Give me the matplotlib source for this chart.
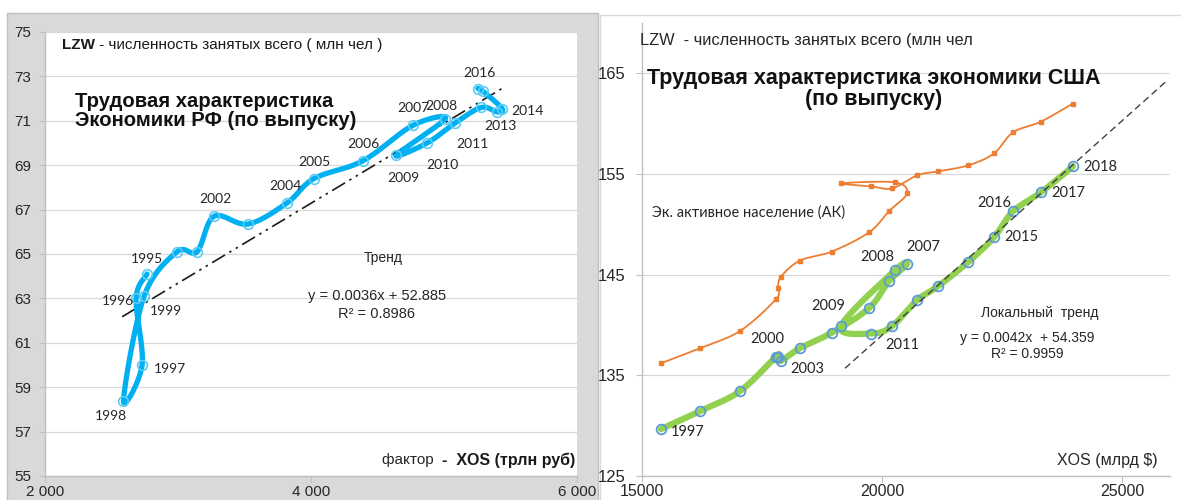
import numpy as np
import matplotlib
matplotlib.use("Agg")
import matplotlib.pyplot as plt
from matplotlib.patches import Rectangle

W, H = 1181, 500

# ---------------- data: Russia ----------------
ru_years = [1995, 1996, 1997, 1998, 1999, 2000, 2001, 2002, 2003, 2004, 2005,
            2006, 2007, 2008, 2009, 2010, 2011, 2012, 2013, 2014, 2015, 2016]
ru_xos = [2767, 2685, 2730, 2590, 2745, 2993, 3143, 3271, 3527, 3820, 4023,
          4391, 4767, 5010, 4640, 4873, 5083, 5279, 5399, 5437, 5290, 5255]
ru_lzw = [64.1, 63.0, 60.0, 58.4, 63.1, 65.1, 65.1, 66.7, 66.35, 67.3, 68.4,
          69.2, 70.8, 71.1, 69.45, 70.0, 70.9, 71.6, 71.4, 71.55, 72.35, 72.45]
ru_trend = (0.0036, 52.885)
ru_trend_x = [2580, 5450]
ru_xticks = [2000, 4000, 6000]
ru_xticklabels = ["2 000", "4 000", "6 000"]
ru_yticks = [55, 57, 59, 61, 63, 65, 67, 69, 71, 73, 75]

# ---------------- data: USA ----------------
us_years = list(range(1997, 2019))
us_xos = [15396, 16208, 17041, 17790, 17830, 17896, 18291, 18958, 19729, 20145, 20520,
          20270, 19145, 19770, 20208, 20729, 21166, 21791, 22332, 22728, 23311, 23978]
us_lzw = [129.66, 131.45, 133.43, 136.85, 136.85, 136.45, 137.7, 139.25, 141.67, 144.35, 146.03,
          145.44, 139.88, 139.15, 139.88, 142.46, 143.85, 146.23, 148.71, 151.29, 153.17, 155.75]
us_ak = [136.2, 137.7, 139.4, 142.56, 143.65, 144.8, 146.4, 147.3, 149.2, 151.3, 153.08,
         154.17, 154.07, 153.77, 153.57, 154.86, 155.26, 155.85, 157.04, 159.13, 160.2, 162.0]
us_trend = (0.00426, 53.78)
us_trend_x = [19230, 25940]
us_xticks = [15000, 20000, 25000]
us_yticks = [125, 135, 145, 155, 165]

# label offsets (pixels) for the labelled years
ru_lab = {1995: (0, 15), 1996: (-18, -3), 1997: (28, -4), 1998: (-13, -15), 1999: (22, -15),
          2002: (1, 17), 2004: (-2, 17), 2005: (0, 17), 2006: (0, 17), 2007: (0, 17),
          2008: (-4, 13), 2009: (7, -23), 2010: (15, -22), 2011: (17, -21), 2013: (3, -14),
          2014: (25, -2), 2016: (2, 16)}
us_lab = {1997: (27, -3), 2000: (-9, 18), 2003: (7, -21), 2007: (16, 17), 2008: (-18, 13),
          2009: (-13, 20), 2011: (10, -19), 2015: (27, 0), 2016: (-19, 8), 2017: (27, -1),
          2018: (27, -1)}

ARIAL = ["Liberation Sans", "DejaVu Sans"]
CALIB = ["Lato", "Open Sans", "DejaVu Sans"]
plt.rcParams["font.family"] = ARIAL


def smooth(xs, ys, xlim, ylim, wpx, hpx, n=20):
    px = (np.asarray(xs, float) - xlim[0]) / (xlim[1] - xlim[0]) * wpx
    py = (np.asarray(ys, float) - ylim[0]) / (ylim[1] - ylim[0]) * hpx
    P = np.column_stack([px, py])
    E = np.vstack([P[0], P, P[-1]])
    t = np.linspace(0, 1, n, endpoint=False)[:, None]
    segs = []
    for i in range(len(P) - 1):
        p0, p1, p2, p3 = E[i], E[i + 1], E[i + 2], E[i + 3]
        c1 = p1 + (p2 - p0) / 6.0
        c2 = p2 - (p3 - p1) / 6.0
        segs.append((1 - t) ** 3 * p1 + 3 * (1 - t) ** 2 * t * c1 + 3 * (1 - t) * t ** 2 * c2 + t ** 3 * p2)
    segs.append(P[-1][None, :])
    S = np.vstack(segs)
    return (S[:, 0] / wpx * (xlim[1] - xlim[0]) + xlim[0],
            S[:, 1] / hpx * (ylim[1] - ylim[0]) + ylim[0])


fig = plt.figure(figsize=(W / 100, H / 100), dpi=100)
fig.patch.set_facecolor("white")


def ftext(x, y, s, **kw):
    return fig.text(x / W, 1 - y / H, s, **kw)


def frame(x0, y0, x1, y1, fc, ec):
    r = Rectangle((x0 / W, 1 - y1 / H), (x1 - x0) / W, (y1 - y0) / H,
                  transform=fig.transFigure, facecolor=fc, edgecolor=ec, lw=1.0, zorder=-5)
    fig.add_artist(r)


# chart-area backgrounds
frame(7, 13, 598, 503, "#D9D9D9", "#BFBFBF")
frame(600, 15, 1190, 510, "white", "#D9D9D9")


def style_axes(ax, ticksize):
    for s in ["top", "right"]:
        ax.spines[s].set_visible(False)
    for s in ["left", "bottom"]:
        ax.spines[s].set_color("#BFBFBF")
        ax.spines[s].set_linewidth(1.0)
    ax.grid(axis="y", color="#D9D9D9", lw=0.9)
    ax.grid(axis="x", visible=False)
    ax.set_axisbelow(True)
    ax.tick_params(axis="both", direction="out", length=4, color="#BFBFBF",
                   labelsize=ticksize, labelcolor="#262626")


# ---------------- left: Russia ----------------
axL = fig.add_axes([45 / W, 1 - 476 / H, (577 - 45) / W, (476 - 32) / H])
axL.set_facecolor("white")
xlimL, ylimL = (2000, 6000), (55, 75)
axL.set_xlim(*xlimL)
axL.set_ylim(*ylimL)
style_axes(axL, 11)
axL.set_yticks(ru_yticks)
axL.set_xticks(ru_xticks)
axL.set_xticklabels(ru_xticklabels)
axL.tick_params(axis="x", pad=2.5)
axL.tick_params(axis="y", pad=6)

tx = np.array(ru_trend_x, float)
axL.plot(tx, ru_trend[0] * tx + ru_trend[1], color="#1a1a1a", lw=1.2,
         dashes=(9, 3, 1.5, 3, 1.5, 3), zorder=2)
sx, sy = smooth(ru_xos, ru_lzw, xlimL, ylimL, 532, 444)
axL.plot(sx, sy, color="#00B0F0", lw=3.8, solid_capstyle="round", zorder=3)
axL.plot(ru_xos, ru_lzw, ls="none", marker="o", ms=7, mfc="none", mec="#5CCBF5", mew=1.2, zorder=4)
for yr, x, y in zip(ru_years, ru_xos, ru_lzw):
    if yr in ru_lab:
        axL.annotate(str(yr), (x, y), xytext=ru_lab[yr], textcoords="offset pixels",
                     ha="center", va="center", fontsize=10, family=CALIB, color="#262626", zorder=5)

t1 = ftext(62, 45, "LZW", fontsize=11, fontweight="bold", va="center", ha="left", color="#1a1a1a")
axL.annotate(" - численность занятых всего ( млн чел )", xy=(1, 0.5), xycoords=t1,
             va="center", ha="left", fontsize=11, color="#1a1a1a")
ftext(75, 111, "Трудовая характеристика\nЭкономики РФ (по выпуску)", fontsize=14.6,
      fontweight="bold", va="center", ha="left", linespacing=1.05, color="#111111")
ftext(383, 258, "Тренд", fontsize=10, ha="center", va="center", color="#262626")
ftext(377, 296, "y = 0.0036x + 52.885", fontsize=10.5, ha="center", va="center", color="#262626")
ftext(377, 314, "R² = 0.8986", fontsize=10.5, ha="center", va="center", color="#262626")
t2 = ftext(575, 460, "-  XOS (трлн руб)", fontsize=11.5, fontweight="bold", ha="right", va="center",
           color="#1a1a1a")
axL.annotate("фактор  ", xy=(0, 0.5), xycoords=t2, va="center", ha="right", fontsize=11,
             color="#262626")

# ---------------- right: USA ----------------
axR = fig.add_axes([642 / W, 1 - 476 / H, (1170 - 642) / W, (476 - 23) / H])
axR.set_facecolor("white")
xlimR, ylimR = (15000, 26000), (125, 170)
axR.set_xlim(*xlimR)
axR.set_ylim(*ylimR)
style_axes(axR, 12)
axR.set_yticks(us_yticks)
axR.set_xticks(us_xticks)
axR.tick_params(axis="x", pad=2.0, labelsize=11.5)
axR.tick_params(axis="y", pad=8)

tx = np.array(us_trend_x, float)
axR.plot(tx, us_trend[0] * tx + us_trend[1], color="#404040", lw=1.0, dashes=(5, 3), zorder=5)
ox, oy = smooth(us_xos, us_ak, xlimR, ylimR, 528, 453)
axR.plot(ox, oy, color="#ED7D31", lw=1.3, zorder=2)
axR.plot(us_xos, us_ak, ls="none", marker="s", ms=3.5, color="#ED7D31", zorder=3)
gx, gy = smooth(us_xos, us_lzw, xlimR, ylimR, 528, 453)
axR.plot(gx, gy, color="#92D050", lw=4.5, solid_capstyle="round", zorder=3)
axR.plot(us_xos, us_lzw, ls="none", marker="o", ms=7, mfc="none", mec="#5B9BD5", mew=1.3, zorder=4)
for yr, x, y in zip(us_years, us_xos, us_lzw):
    if yr in us_lab:
        axR.annotate(str(yr), (x, y), xytext=us_lab[yr], textcoords="offset pixels",
                     ha="center", va="center", fontsize=10.5, family=CALIB, color="#262626", zorder=6)

ftext(640, 40, "LZW  - численность занятых всего (млн чел", fontsize=11.8, ha="left", va="center",
      color="#262626")
ftext(874, 89, "Трудовая характеристика экономики США\n(по выпуску)", fontsize=15.5,
      fontweight="bold", ha="center", va="center", multialignment="center", linespacing=1.0,
      color="#111111")
ftext(652, 213, "Эк. активное население (АК)", fontsize=10.5, family=CALIB, ha="left", va="center",
      color="#262626")
ftext(1040, 313, "Локальный  тренд", fontsize=10, ha="center", va="center", color="#262626")
ftext(1027, 338, "y = 0.0042x  + 54.359", fontsize=10, ha="center", va="center", color="#262626")
ftext(1027, 354, "R² = 0.9959", fontsize=10, ha="center", va="center", color="#262626")
ftext(1158, 460, "XOS (млрд $)", fontsize=11.5, ha="right", va="center", color="#262626")

fig.savefig("out.png", dpi=100, facecolor="white")
